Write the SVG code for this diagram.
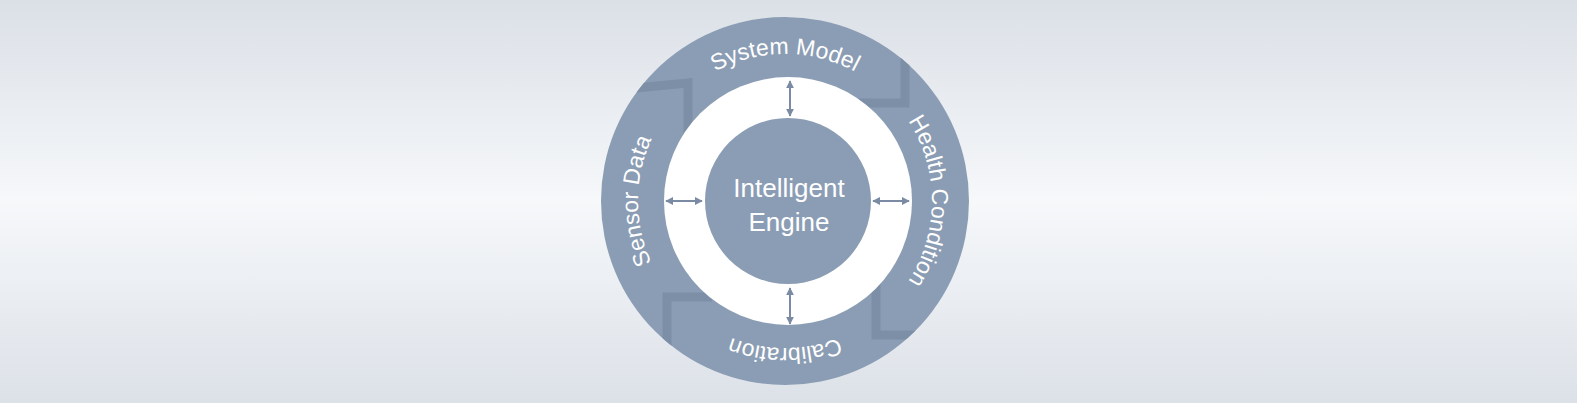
<svg xmlns="http://www.w3.org/2000/svg" xmlns:xlink="http://www.w3.org/1999/xlink" width="1577" height="403" viewBox="0 0 1577 403">
  <style>
    .ring { fill: #8b9db4; }
    .chev { fill: none; stroke: #7d8fa7; stroke-width: 9; stroke-linejoin: miter; stroke-linecap: butt; }
    .lbl { fill: #ffffff; font-family: "Liberation Sans", Arial, sans-serif; font-size: 23px; }
    .core { fill: #ffffff; font-family: "Liberation Sans", Arial, sans-serif; font-size: 26px; text-anchor: middle; }
    .conn { stroke: #7b8ba3; stroke-width: 2; fill: none; marker-start: url(#ah); marker-end: url(#ah); }
  </style>
  <defs>
    <linearGradient id="bg" x1="0" y1="0" x2="0" y2="1">
      <stop offset="0" stop-color="#dbe0e7"/>
      <stop offset="0.5" stop-color="#f6f8fa"/>
      <stop offset="1" stop-color="#dce1e8"/>
    </linearGradient>
    <clipPath id="outerClip">
      <circle cx="785" cy="201" r="184"/>
    </clipPath>
    <marker id="ah" viewBox="0 0 10 10" refX="9" refY="5" markerWidth="4" markerHeight="4" orient="auto-start-reverse" markerUnits="strokeWidth">
      <path d="M0,0 L10,5 L0,10 Z" fill="#7b8ba3"/>
    </marker>
    <path id="textRing" d="M681.06,304.94 A147,147 0 0,1 681.06,97.06 A147,147 0 0,1 888.94,97.06 A147,147 0 0,1 888.94,304.94 A147,147 0 0,1 681.06,304.94 Z"/>
  </defs>

  <rect x="0" y="0" width="1577" height="403" fill="url(#bg)"/>

  <g id="cycle-ring">
    <circle class="ring" cx="785" cy="201" r="184"/>
    <g clip-path="url(#outerClip)">
      <path class="chev" d="M636,88 L688,83 L688,140"/>
      <path class="chev" d="M905,40 L905,103 L850,103"/>
      <path class="chev" d="M667,360 L667,297 L712,297"/>
      <path class="chev" d="M876,280 L876,335 L940,335"/>
    </g>
  </g>

  <g id="white-band">
    <circle cx="788" cy="201" r="124" fill="#ffffff"/>
  </g>

  <g id="intelligent-engine">
    <circle class="ring" cx="788" cy="201" r="83"/>
    <text class="core" x="789" y="197">Intelligent</text>
    <text class="core" x="789" y="231">Engine</text>
  </g>

  <g id="sensor-data">
    <text class="lbl"><textPath xlink:href="#textRing" href="#textRing" startOffset="12.5%" text-anchor="middle">Sensor Data</textPath></text>
  </g>
  <g id="system-model">
    <text class="lbl"><textPath xlink:href="#textRing" href="#textRing" startOffset="37.5%" text-anchor="middle">System Model</textPath></text>
  </g>
  <g id="health-condition">
    <text class="lbl"><textPath xlink:href="#textRing" href="#textRing" startOffset="62.5%" text-anchor="middle">Health Condition</textPath></text>
  </g>
  <g id="calibration">
    <text class="lbl"><textPath xlink:href="#textRing" href="#textRing" startOffset="87.5%" text-anchor="middle">Calibration</textPath></text>
  </g>

  <g id="connectors">
    <line class="conn" x1="790" y1="81" x2="790" y2="116"/>
    <line class="conn" x1="790" y1="288" x2="790" y2="324"/>
    <line class="conn" x1="666" y1="201" x2="702" y2="201"/>
    <line class="conn" x1="873" y1="201" x2="909" y2="201"/>
  </g>
</svg>
